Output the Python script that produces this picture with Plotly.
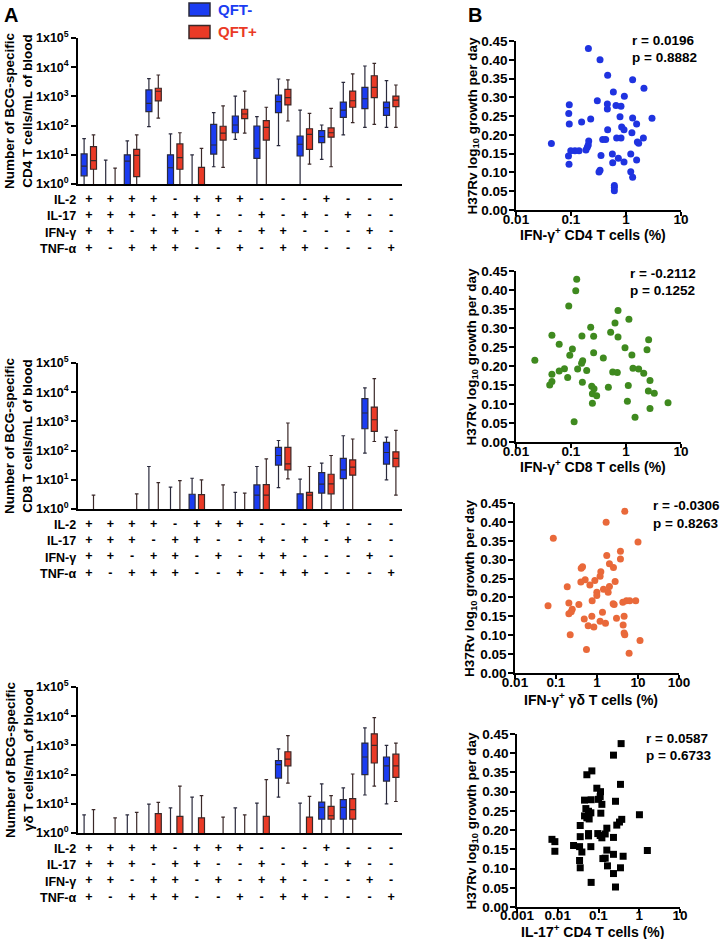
import plotly.graph_objects as go

W, H = 720, 939
Z = 0.5  # value below the 1x10^0 floor (zero counts) -> drawn at the axis

# ---------------- Panel A data ----------------
CATS = list(range(15))
IL2 = ["+", "+", "+", "+", "-", "+", "+", "+", "-", "-", "-", "+", "-", "-", "-"]
IL17 = ["+", "+", "+", "-", "+", "+", "-", "-", "+", "-", "+", "-", "+", "-", "-"]
IFNG = ["+", "+", "-", "+", "+", "-", "+", "-", "+", "+", "-", "-", "-", "+", "-"]
TNFA = ["+", "-", "+", "+", "+", "-", "-", "+", "-", "+", "+", "-", "-", "-", "+"]
ROW_NAMES = ["IL-2", "IL-17", "IFN-γ", "TNF-α"]
Y_TICKS = [1, 10, 100, 1000, 10000, 100000]
Y_TICK_TEXT = ["1x10<sup>0</sup>", "1x10<sup>1</sup>", "1x10<sup>2</sup>",
               "1x10<sup>3</sup>", "1x10<sup>4</sup>", "1x10<sup>5</sup>"]

# (lower whisker, q1, median, q3, upper whisker) per cytokine combination
CD4_QFT_NEG = [(Z, 1.9, 4.1, 10.7, 36), (Z, Z, Z, Z, 6.6), (Z, Z, 6.1, 10, 30),
               (92, 300, 580, 1660, 4060), (Z, Z, 3.6, 10, 52), (Z, Z, Z, Z, 10),
               (3.9, 10.6, 21.7, 110, 277), (34, 57, 105, 213, 1030), (Z, 7.6, 16.6, 97, 202),
               (20.5, 277, 660, 1100, 3950), (Z, 9.1, 23, 44, 340), (7, 26, 42, 67, 105),
               (48, 192, 340, 640, 3000), (87, 380, 830, 2050, 11000), (87, 225, 410, 640, 3460)]
CD4_QFT_POS = [(Z, 3.2, 6.3, 19, 48), (Z, Z, Z, Z, 3.5), (Z, 1.78, 9.6, 15.4, 48),
               (180, 700, 1500, 1900, 5400), (Z, 3.2, 8, 23.5, 57), (Z, Z, Z, 3.7, 16.6),
               (3.7, 32, 55, 95, 470), (55, 173, 250, 363, 1520), (Z, 32, 87, 147, 425),
               (144, 510, 910, 1750, 3660), (4.8, 15.4, 50, 78, 263), (3.9, 40, 57, 83, 390),
               (126, 425, 710, 1520, 5870), (110, 910, 2050, 5100, 13600), (87, 445, 750, 1030, 2460)]

CD8_QFT_NEG = [(Z, Z, Z, Z, Z), (Z, Z, Z, Z, Z), (Z, Z, Z, Z, Z),
               (Z, Z, Z, Z, 28.5), (Z, Z, Z, Z, 5.6), (Z, Z, Z, 3.2, 11.3),
               (Z, Z, Z, Z, Z), (Z, Z, Z, Z, 3.7), (Z, Z, 3.0, 6.7, 28.5),
               (5.4, 32, 68, 128, 222), (Z, Z, Z, 3.3, 10.5), (Z, 3.5, 7.1, 17.7, 37),
               (Z, 11, 22, 54, 323), (82, 560, 1940, 6000, 14000), (10, 34.5, 86, 190, 290)]
CD8_QFT_POS = [(Z, Z, Z, Z, 3.0), (Z, Z, Z, Z, Z), (Z, Z, Z, Z, 3.3),
               (Z, Z, Z, Z, 8.0), (Z, Z, Z, Z, 9.4), (Z, Z, Z, 3.1, 10),
               (Z, Z, Z, Z, 6.7), (Z, Z, Z, Z, 3.5), (Z, Z, 3.0, 6.8, 52),
               (10.7, 22, 35, 128, 880), (Z, Z, 3.0, 3.7, 28.5), (Z, 3.3, 7.3, 15.5, 68),
               (Z, 14.4, 27, 48, 250), (205, 455, 1140, 3100, 29000), (3.0, 28, 54, 91, 490)]

GD_QFT_NEG = [(Z, Z, Z, Z, 4.2), (Z, Z, Z, Z, Z), (Z, Z, Z, Z, 4.2),
              (Z, Z, Z, Z, 9.8), (Z, Z, Z, Z, 7.2), (Z, Z, Z, Z, 17),
              (Z, Z, Z, Z, Z), (Z, Z, Z, Z, 7.2), (Z, Z, Z, Z, 10.6),
              (17, 76, 219, 300, 755), (Z, Z, Z, Z, 10.5), (Z, 3.0, 7.5, 11.5, 48),
              (Z, 3.0, 7.5, 13.8, 35), (20, 100, 400, 1200, 4000), (10, 60, 200, 400, 1000)]
GD_QFT_POS = [(Z, Z, Z, Z, 6.3), (Z, Z, Z, Z, 3.3), (Z, Z, Z, Z, 5.1),
              (Z, Z, Z, 4.6, 11.2), (Z, Z, Z, 3.7, 40), (Z, Z, Z, 3.3, 19),
              (Z, Z, Z, Z, 3.5), (Z, Z, Z, Z, 4.2), (Z, Z, Z, 3.7, 67),
              (51, 200, 340, 605, 2150), (Z, Z, Z, 3.5, 18), (Z, 3.0, 3.9, 8.2, 19),
              (Z, 3.0, 6.3, 15, 105), (40, 250, 1000, 2500, 9000), (12, 80, 200, 500, 1200)]

# ---------------- Panel B data ----------------
S1_X = [0.207, 0.337, 0.464, 1.32, 2.12, 0.589, 0.933, 0.301, 0.093, 0.458, 0.658, 0.811, 0.458,
        0.091, 0.778, 1.32, 2.97, 0.228, 0.156, 0.093, 1.56, 0.834, 0.464, 0.920, 1.28, 0.210,
        0.377, 0.427, 0.676, 0.811, 2.07, 0.044, 1.61, 1.70, 0.206, 0.198, 0.187, 0.118, 0.099,
        0.140, 0.090, 0.351, 0.565, 1.22, 0.726, 1.56, 0.573, 0.920, 0.092, 0.337, 0.323, 1.22,
        1.32, 0.614, 0.614, 0.614]
S1_Y = [0.430, 0.400, 0.359, 0.347, 0.324, 0.314, 0.303, 0.291, 0.280, 0.282, 0.278, 0.276, 0.269,
        0.257, 0.248, 0.245, 0.244, 0.242, 0.234, 0.229, 0.229, 0.221, 0.214, 0.214, 0.206, 0.184,
        0.188, 0.188, 0.192, 0.192, 0.192, 0.177, 0.181, 0.178, 0.173, 0.167, 0.160, 0.158, 0.158,
        0.158, 0.144, 0.145, 0.149, 0.149, 0.138, 0.133, 0.126, 0.128, 0.122, 0.106, 0.101, 0.102,
        0.087, 0.065, 0.060, 0.051]

S2_X = [0.127, 0.122, 0.091, 0.716, 1.13, 0.631, 0.228, 0.526, 0.045, 0.158, 0.258, 0.716, 2.58,
        0.061, 0.959, 0.106, 2.41, 1.28, 0.095, 0.258, 0.022, 0.387, 0.163, 0.156, 0.076, 0.132,
        0.061, 0.193, 0.573, 0.695, 1.34, 1.70, 2.10, 0.045, 0.087, 2.73, 0.045, 0.161, 0.041,
        0.238, 1.10, 0.262, 0.478, 2.55, 3.27, 0.245, 0.293, 1.06, 5.81, 0.245, 2.73, 1.46, 0.114]
S2_Y = [0.428, 0.398, 0.358, 0.346, 0.323, 0.313, 0.302, 0.289, 0.281, 0.279, 0.278, 0.276, 0.269,
        0.257, 0.248, 0.245, 0.243, 0.229, 0.228, 0.235, 0.215, 0.221, 0.214, 0.207, 0.193, 0.192,
        0.187, 0.188, 0.184, 0.183, 0.194, 0.192, 0.181, 0.178, 0.170, 0.162, 0.159, 0.157, 0.150,
        0.147, 0.149, 0.140, 0.144, 0.134, 0.128, 0.127, 0.122, 0.107, 0.103, 0.102, 0.088, 0.065,
        0.053]

S3_X = [4.76, 1.67, 0.086, 10.0, 3.73, 1.73, 3.73, 2.01, 0.444, 0.412, 2.52, 1.24, 1.19, 0.515,
        0.885, 0.404, 2.77, 0.670, 0.188, 2.01, 0.99, 1.44, 1.87, 0.99, 0.762, 0.206, 2.48, 2.62,
        0.064, 4.26, 5.22, 6.29, 8.81, 0.361, 0.249, 0.235, 0.206, 1.36, 0.748, 4.58, 0.488, 2.99,
        1.19, 1.61, 0.609, 4.34, 0.838, 4.58, 4.76, 0.222, 11.2, 0.554, 6.07]
S3_Y = [0.428, 0.399, 0.357, 0.347, 0.322, 0.311, 0.302, 0.289, 0.281, 0.277, 0.279, 0.268, 0.256,
        0.247, 0.245, 0.241, 0.242, 0.233, 0.228, 0.229, 0.214, 0.222, 0.214, 0.205, 0.191, 0.185,
        0.183, 0.181, 0.178, 0.187, 0.191, 0.191, 0.191, 0.181, 0.169, 0.162, 0.157, 0.161, 0.150,
        0.150, 0.143, 0.145, 0.137, 0.132, 0.125, 0.127, 0.122, 0.106, 0.101, 0.101, 0.086, 0.062,
        0.052]

S4_X = [0.359, 0.233, 0.0687, 0.0518, 0.346, 0.091, 0.112, 0.110, 0.0454, 0.0661, 0.100, 0.261,
        0.121, 0.049, 0.0569, 0.0649, 0.114, 1.01, 0.0454, 0.0518, 0.059, 0.372, 0.327, 0.281,
        0.0356, 0.160, 0.0356, 0.057, 0.057, 0.096, 0.110, 0.121, 0.146, 0.233, 0.0072, 0.0085,
        0.0244, 0.0343, 0.0649, 0.0391, 0.0085, 0.160, 1.58, 0.128, 0.146, 0.233, 0.402, 0.0343,
        0.166, 0.346, 0.0356, 0.233, 0.066, 0.261]
S4_Y = [0.425, 0.395, 0.354, 0.344, 0.319, 0.309, 0.300, 0.287, 0.278, 0.279, 0.280, 0.275, 0.267,
        0.256, 0.249, 0.245, 0.244, 0.240, 0.237, 0.232, 0.229, 0.228, 0.221, 0.213, 0.212, 0.205,
        0.183, 0.191, 0.185, 0.191, 0.186, 0.180, 0.190, 0.181, 0.176, 0.170, 0.160, 0.157, 0.157,
        0.143, 0.145, 0.148, 0.147, 0.126, 0.127, 0.137, 0.132, 0.121, 0.107, 0.102, 0.102, 0.087,
        0.064, 0.052]

SCATTER_LABELS = [("r = 0.0196", "p = 0.8882"), ("r = -0.2112", "p = 0.1252"),
                  ("r = -0.0306", "p = 0.8263"), ("r = 0.0587", "p = 0.6733")]
SCATTER_XTITLES = ["IFN-γ<sup>+</sup> CD4 T cells (%)", "IFN-γ<sup>+</sup> CD8 T cells (%)",
                   "IFN-γ<sup>+</sup> γδ T cells (%)", "IL-17<sup>+</sup> CD4 T cells (%)"]

# ---------------- styling ----------------
BLUE = "#1b3cf2"
RED = "#ea3a26"
FONT = "Liberation Sans, Arial, sans-serif"


def fx(p):
    return p / W


def fy(p):
    return 1 - p / H


def bfont(size, color="black"):
    return dict(family=FONT, size=size, color=color, weight="bold")


fig = go.Figure()

box_panels = [
    ("x", "y", CD4_QFT_NEG, CD4_QFT_POS, 38, 184, "CD4 T cells/mL of blood"),
    ("x2", "y2", CD8_QFT_NEG, CD8_QFT_POS, 363, 509, "CD8 T cells/mL of blood"),
    ("x3", "y3", GD_QFT_NEG, GD_QFT_POS, 687, 833, "γδ T cells/mL of blood"),
]

sign_text = ["<br>".join([IL2[i], IL17[i], IFNG[i], TNFA[i]]) for i in CATS]

layout_axes = {}
annotations = []
for k, (xa, ya, neg, pos, top, bot, ytitle) in enumerate(box_panels):
    for name, data, color, lc in [("QFT-", neg, BLUE, "#2a2a3c"), ("QFT+", pos, RED, "#3a2828")]:
        fig.add_trace(go.Box(
            x=CATS,
            lowerfence=[d[0] for d in data], q1=[d[1] for d in data],
            median=[d[2] for d in data], q3=[d[3] for d in data],
            upperfence=[d[4] for d in data],
            name=name, offsetgroup=name, fillcolor=color,
            line=dict(color=lc, width=1.2), whiskerwidth=0.6,
            xaxis=xa, yaxis=ya, showlegend=False, boxpoints=False,
        ))
    sfx = "" if k == 0 else str(k + 1)
    layout_axes["xaxis" + sfx] = dict(
        domain=[fx(78), fx(402)], anchor=ya, range=[-0.5, 14.5], automargin=False,
        tickmode="array", tickvals=CATS, ticktext=sign_text, ticks="",
        tickfont=bfont(12.5), ticklabelstandoff=2,
        showline=True, linecolor="black", linewidth=1.6, showgrid=False, zeroline=False,
    )
    layout_axes["yaxis" + sfx] = dict(
        domain=[fy(bot), fy(top)], anchor=xa, type="log", range=[0, 5], automargin=False,
        tickmode="array", tickvals=Y_TICKS, ticktext=Y_TICK_TEXT,
        ticks="outside", ticklen=5, tickwidth=1.5, tickcolor="black",
        tickfont=bfont(12.5), showline=True, linecolor="black", linewidth=1.6,
        showgrid=False, zeroline=False,
    )
    annotations.append(dict(
        xref="paper", yref="paper", x=fx(78), y=fy(bot + 7), xanchor="right", yanchor="top",
        text="<br>".join(ROW_NAMES), align="right", showarrow=False, font=bfont(12.5)))
    annotations.append(dict(
        xref="paper", yref="paper", x=fx(19), y=fy((top + bot) / 2), xanchor="center",
        yanchor="middle", textangle=-90, showarrow=False, font=bfont(13.5),
        text="Number of BCG-specific<br>" + ytitle))

scatter_panels = [
    (S1_X, S1_Y, "circle", "#1f33e0", 41, 210, 516, 681, [-2, 1],
     [0.01, 0.1, 1, 10], ["0.01", "0.1", "1", "10"], 234, 473, 630, 40, -8),
    (S2_X, S2_Y, "circle", "#3f8a1f", 271, 442, 516, 681, [-2, 1],
     [0.01, 0.1, 1, 10], ["0.01", "0.1", "1", "10"], 466, 472, 628, 273, -8),
    (S3_X, S3_Y, "circle", "#e9693a", 503, 673, 515, 679, [-2, 2],
     [0.01, 0.1, 1, 10, 100], ["0.01", "0.1", "1", "10", "100"], 699, 470, 651, 506, -8),
    (S4_X, S4_Y, "square", "black", 734, 907, 517, 680, [-3, 1],
     [0.001, 0.01, 0.1, 1, 10], ["0.001", "0.01", "0.1", "1", "10"], 931, 472, 644, 738, -9),
]
for j, (xs, ys, sym, col, top, bot, left, right, xr, xtv, xtt, xt_y, yt_x, r_x, r_y, so) in enumerate(scatter_panels):
    n = j + 4
    xa, ya = "x%d" % n, "y%d" % n
    fig.add_trace(go.Scatter(
        x=xs, y=ys, mode="markers", xaxis=xa, yaxis=ya, showlegend=False,
        marker=dict(symbol=sym, size=7, color=col, line=dict(width=0)),
    ))
    layout_axes["xaxis%d" % n] = dict(
        domain=[fx(left), fx(right)], anchor=ya, type="log", range=xr, automargin=False,
        tickmode="array", tickvals=xtv, ticktext=xtt, ticks="outside", ticklen=4,
        tickwidth=1.5, tickcolor="black", tickfont=bfont(13.5), ticklabelstandoff=so,
        showline=True, linecolor="black", linewidth=1.6, showgrid=False, zeroline=False,
    )
    layout_axes["yaxis%d" % n] = dict(
        domain=[fy(bot), fy(top)], anchor=xa, range=[0, 0.45], dtick=0.05, tick0=0,
        automargin=False, ticklabelstandoff=-1,
        tickformat=".2f", ticks="outside", ticklen=5, tickwidth=1.5, tickcolor="black",
        tickfont=bfont(13.5), showline=True, linecolor="black", linewidth=1.6,
        showgrid=False, zeroline=False,
    )
    annotations.append(dict(
        xref="paper", yref="paper", x=fx((left + right) / 2 - 6), y=fy(xt_y), xanchor="center",
        yanchor="middle", showarrow=False, font=bfont(14), text=SCATTER_XTITLES[j]))
    annotations.append(dict(
        xref="paper", yref="paper", x=fx(yt_x), y=fy((top + bot) / 2), xanchor="center",
        yanchor="middle", textangle=-90, showarrow=False, font=bfont(13.5),
        text="H37Rv log<sub>10</sub> growth per day"))
    annotations.append(dict(
        xref="paper", yref="paper", x=fx(r_x), y=fy(r_y), xanchor="left", yanchor="middle",
        showarrow=False, font=bfont(13.5), align="left", text=SCATTER_LABELS[j][0]))
    annotations.append(dict(
        xref="paper", yref="paper", x=fx(r_x), y=fy(r_y + 17), xanchor="left", yanchor="middle",
        showarrow=False, font=bfont(13.5), align="left", text=SCATTER_LABELS[j][1]))

# panel letters and legend
annotations += [
    dict(xref="paper", yref="paper", x=fx(11), y=fy(15), xanchor="center", yanchor="middle",
         showarrow=False, font=bfont(20), text="A"),
    dict(xref="paper", yref="paper", x=fx(475), y=fy(15), xanchor="center", yanchor="middle",
         showarrow=False, font=bfont(20), text="B"),
    dict(xref="paper", yref="paper", x=fx(216), y=fy(9.5), xanchor="left", yanchor="middle",
         showarrow=False, font=bfont(15, BLUE), text="QFT-"),
    dict(xref="paper", yref="paper", x=fx(216), y=fy(32), xanchor="left", yanchor="middle",
         showarrow=False, font=bfont(15, RED), text="QFT+"),
]
shapes = [
    dict(type="rect", xref="paper", yref="paper", x0=fx(189), x1=fx(210), y0=fy(16), y1=fy(3),
         fillcolor=BLUE, line=dict(color="#2a2a3c", width=1.5)),
    dict(type="rect", xref="paper", yref="paper", x0=fx(189), x1=fx(210), y0=fy(38.5), y1=fy(25.5),
         fillcolor=RED, line=dict(color="#3a2828", width=1.5)),
]

fig.update_layout(
    width=W, height=H, margin=dict(l=0, r=0, t=0, b=0, autoexpand=False),
    paper_bgcolor="white", plot_bgcolor="white",
    font=dict(family=FONT, color="black"),
    boxmode="group", boxgap=0.13, boxgroupgap=0.36,
    annotations=annotations, shapes=shapes, showlegend=False,
    **layout_axes,
)

# the page's default 8px body margin would push the 720x939 figure partly out of the window
fig.write_html("out.html", config={"displayModeBar": False},
               post_script="document.body.style.margin='0';")
